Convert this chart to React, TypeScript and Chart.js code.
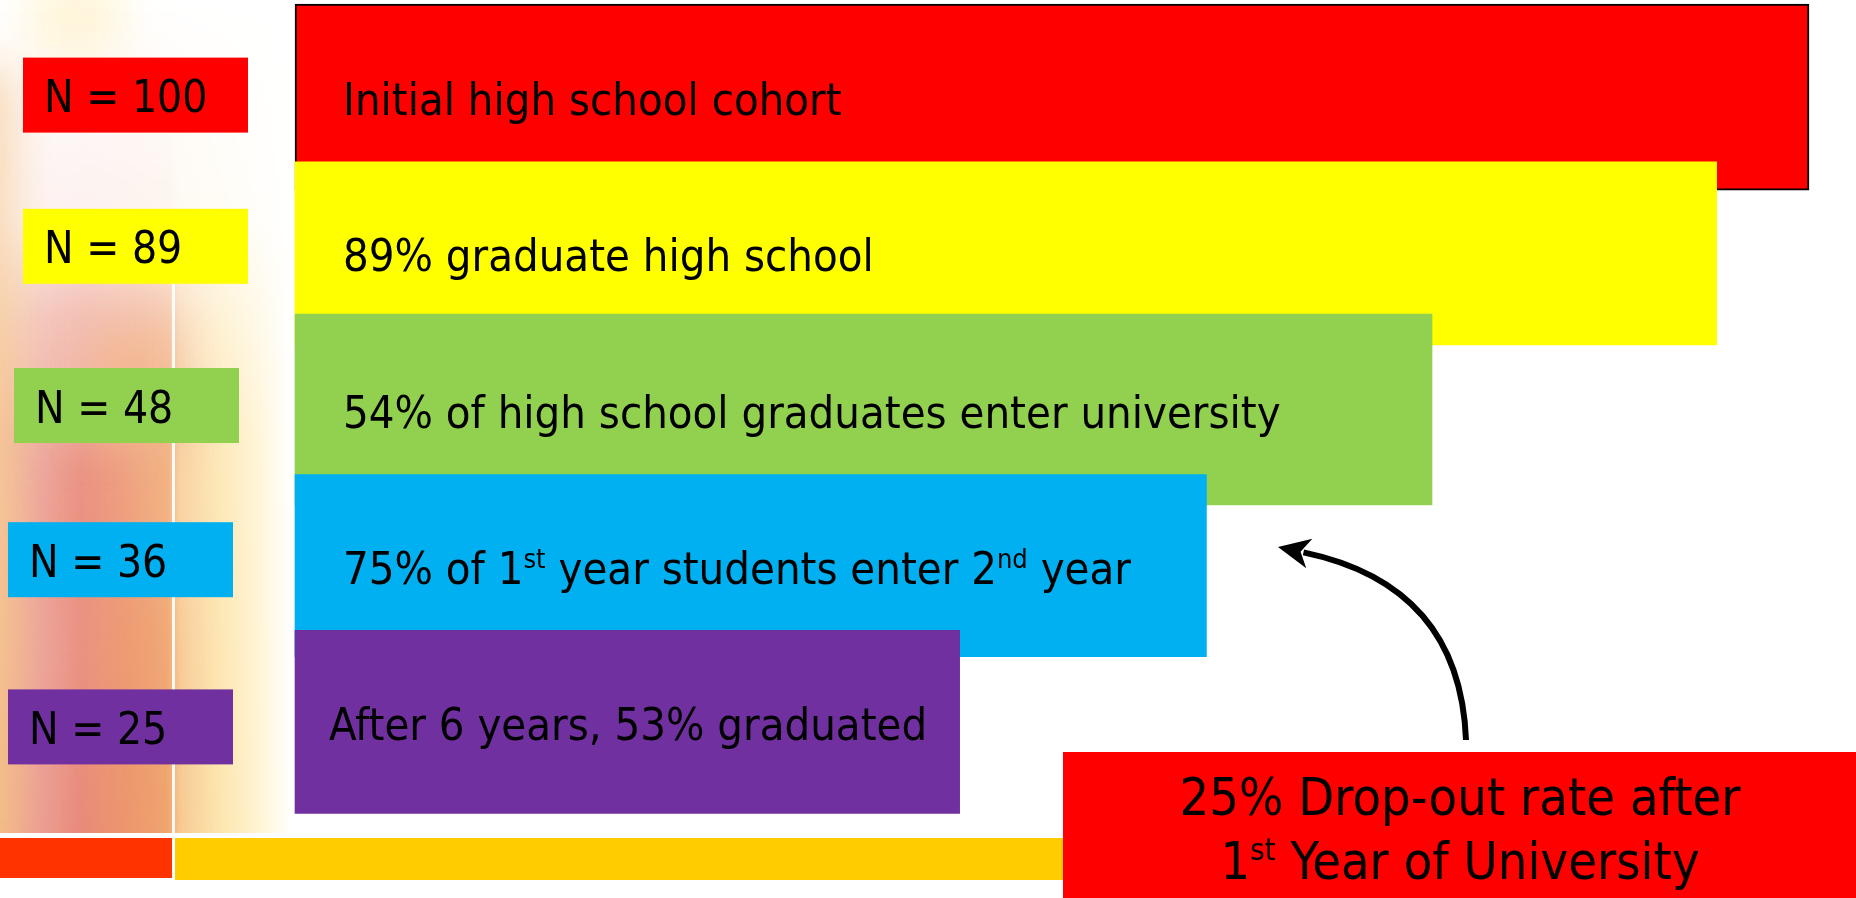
import React, { useEffect, useRef } from 'react';
import { Chart, registerables } from 'chart.js';

Chart.register(...registerables);

// ---- data ----
const stages = [
  'Initial cohort',
  'High school graduates',
  'Enter university',
  'Enter 2nd year',
  'Graduated after 6 years',
];
const barLengths = [100, 93.9, 75.1, 60.2, 43.9];
const counts = [100, 89, 48, 36, 25];
const barLabels = [
  'Initial high school cohort',
  '89% graduate high school',
  '54% of high school graduates enter university',
  '75% of 1^st year students enter 2^nd year',
  'After 6 years, 53% graduated',
];
const barColors = ['#FF0000', '#FFFF00', '#92D050', '#00B0F0', '#7030A0'];
const calloutLines = ['25% Drop-out rate after', '1^st Year of University'];

const W = 1856;
const H = 898;
const FONT = '"DejaVu Sans Condensed", "DejaVu Sans", sans-serif';

type Part = { t: string; sup: boolean };
function parseRich(text: string): Part[] {
  const parts: Part[] = [];
  const re = /\^([A-Za-z]+)/g;
  let last = 0;
  let m: RegExpExecArray | null;
  while ((m = re.exec(text))) {
    if (m.index > last) parts.push({ t: text.slice(last, m.index), sup: false });
    parts.push({ t: m[1], sup: true });
    last = m.index + m[0].length;
  }
  if (last < text.length) parts.push({ t: text.slice(last), sup: false });
  return parts;
}

function drawRich(ctx: CanvasRenderingContext2D, text: string, x: number, y: number, size: number, align: 'left' | 'center') {
  const parts = parseRich(text);
  const supSize = Math.round(size * 0.6);
  const widths = parts.map((p) => {
    ctx.font = `${p.sup ? supSize : size}px ${FONT}`;
    return ctx.measureText(p.t).width;
  });
  const total = widths.reduce((a, b) => a + b, 0);
  let cx = align === 'center' ? x - total / 2 : x;
  ctx.textAlign = 'left';
  ctx.textBaseline = 'alphabetic';
  parts.forEach((p, i) => {
    ctx.font = `${p.sup ? supSize : size}px ${FONT}`;
    ctx.fillText(p.t, cx, p.sup ? y - size * 0.36 : y);
    cx += widths[i];
  });
}

function drawBackdrop(ctx: CanvasRenderingContext2D) {
  ctx.save();
  ctx.fillStyle = '#ffffff';
  ctx.fillRect(0, 0, W, H);

  // main warm band (horizontal colour gradient, faded in vertically)
  const off = document.createElement('canvas');
  off.width = 300;
  off.height = 836;
  const o = off.getContext('2d') as CanvasRenderingContext2D;
  const hg = o.createLinearGradient(0, 0, 300, 0);
  hg.addColorStop(0.0, 'rgb(243,188,135)');
  hg.addColorStop(0.06, 'rgb(240,176,140)');
  hg.addColorStop(0.14, 'rgb(235,158,146)');
  hg.addColorStop(0.27, 'rgb(233,138,122)');
  hg.addColorStop(0.4, 'rgb(237,148,112)');
  hg.addColorStop(0.56, 'rgb(240,168,112)');
  hg.addColorStop(0.6, 'rgb(248,205,150)');
  hg.addColorStop(0.74, 'rgb(253,230,175)');
  hg.addColorStop(0.86, 'rgb(255,243,210)');
  hg.addColorStop(0.97, 'rgb(255,255,255)');
  hg.addColorStop(1.0, 'rgb(255,255,255)');
  o.fillStyle = hg;
  o.fillRect(0, 0, 300, 836);
  o.globalCompositeOperation = 'destination-in';
  const vg = o.createLinearGradient(0, 0, 0, 836);
  vg.addColorStop(0.0, 'rgba(0,0,0,0)');
  vg.addColorStop(0.26, 'rgba(0,0,0,0.12)');
  vg.addColorStop(0.38, 'rgba(0,0,0,0.5)');
  vg.addColorStop(0.52, 'rgba(0,0,0,0.85)');
  vg.addColorStop(1.0, 'rgba(0,0,0,1)');
  o.fillStyle = vg;
  o.fillRect(0, 0, 300, 836);
  ctx.drawImage(off, 0, 0);

  // soft extra blobs
  ctx.save();
  ctx.beginPath();
  ctx.rect(0, 0, 296, 836);
  ctx.clip();
  ctx.filter = 'blur(22px)';
  const blobs: [number, number, number, number, string][] = [
    [-80, 70, 95, 360, 'rgba(245,195,140,0.6)'],
    [30, -30, 90, 90, 'rgba(255,238,190,0.55)'],
    [30, 290, 140, 150, 'rgba(244,190,175,0.5)'],
    [95, 330, 75, 120, 'rgba(243,180,125,0.5)'],
    [55, 450, 55, 150, 'rgba(232,135,115,0.35)'],
    [110, 600, 55, 240, 'rgba(238,150,100,0.35)'],
  ];
  blobs.forEach(([x, y, w, h, c]) => {
    ctx.fillStyle = c;
    ctx.fillRect(x, y, w, h);
  });
  ctx.restore();

  // white divider lines
  ctx.fillStyle = 'rgba(255,255,255,0.9)';
  ctx.fillRect(172, 260, 3, 580);
  ctx.fillStyle = '#ffffff';
  ctx.fillRect(0, 833, W, 5);
  // bottom strips
  ctx.fillStyle = '#FF3300';
  ctx.fillRect(0, 838, 172, 40);
  ctx.fillStyle = '#FFCC00';
  ctx.fillRect(175, 838, W - 175, 42);
  ctx.restore();
}

const decorPlugin = {
  id: 'funnelDecor',
  beforeDraw(chart: any) {
    drawBackdrop(chart.ctx);
  },
  afterDatasetsDraw(chart: any, _args: any, opts: any) {
    const ctx: CanvasRenderingContext2D = chart.ctx;
    ctx.save();
    stages.forEach((_s, i) => {
      const el: any = chart.getDatasetMeta(i).data[i];
      const { y, base } = el.getProps(['y', 'base'], true);
      // count box
      const bx = opts.boxLeft[i];
      const cy = y + opts.boxShift[i];
      ctx.fillStyle = barColors[i];
      ctx.fillRect(bx, cy - 37.5, 225, 75);
      ctx.fillStyle = '#000000';
      ctx.font = `44px ${FONT}`;
      ctx.textAlign = 'left';
      ctx.textBaseline = 'alphabetic';
      ctx.fillText(`N = ${counts[i]}`, bx + 21, cy + 17);
      // bar label
      drawRich(ctx, barLabels[i], base + opts.labelInset[i], y + 18, 45, 'left');
    });
    ctx.restore();
  },
  afterDraw(chart: any) {
    const ctx: CanvasRenderingContext2D = chart.ctx;
    ctx.save();
    // callout box
    ctx.fillStyle = '#FF0000';
    ctx.fillRect(1063, 752, W - 1063, H - 752);
    ctx.fillStyle = '#000000';
    drawRich(ctx, calloutLines[0], 1460, 815, 52, 'center');
    drawRich(ctx, calloutLines[1], 1460, 879, 52, 'center');

    // curved arrow
    const sx = 1466, sy = 740;
    const qx = 1460, qy = 585;
    const tx = 1278, ty = 547;
    const dx = tx - qx, dy = ty - qy;
    const len = Math.hypot(dx, dy);
    const ux = dx / len, uy = dy / len;
    const headLen = 32;
    const ex = tx - ux * (headLen - 6), ey = ty - uy * (headLen - 6);
    ctx.strokeStyle = '#000000';
    ctx.lineWidth = 6;
    ctx.beginPath();
    ctx.moveTo(sx, sy);
    ctx.quadraticCurveTo(qx, qy, ex, ey);
    ctx.stroke();
    const px = -uy, py = ux;
    const bxp = tx - ux * headLen, byp = ty - uy * headLen;
    ctx.fillStyle = '#000000';
    ctx.beginPath();
    ctx.moveTo(tx, ty);
    ctx.lineTo(bxp + px * 15, byp + py * 15);
    ctx.lineTo(tx - ux * headLen * 0.72, ty - uy * headLen * 0.72);
    ctx.lineTo(bxp - px * 15, byp - py * 15);
    ctx.closePath();
    ctx.fill();
    ctx.restore();
  },
};

export default function App() {
  const canvasRef = useRef<HTMLCanvasElement | null>(null);

  useEffect(() => {
    document.body.style.margin = '0';
    const canvas = canvasRef.current;
    if (!canvas) return;
    const thickness = [186, 183, 191, 182, 183];
    const chart = new Chart(canvas, {
      type: 'bar',
      data: {
        labels: stages,
        datasets: stages.map((s, i) => ({
          label: s,
          data: barLengths.map((v, j) => (j === i ? v : null)),
          backgroundColor: barColors[i],
          borderColor: '#000000',
          borderWidth: i === 0 ? 2 : 0,
          borderSkipped: false,
          barThickness: thickness[i],
          grouped: false,
          clip: false,
          // later stages are painted on top of earlier ones
          order: stages.length - i,
        })) as any,
      },
      options: {
        indexAxis: 'y',
        responsive: false,
        maintainAspectRatio: false,
        animation: false,
        devicePixelRatio: 1,
        layout: { padding: { left: 295, right: 47, top: 19, bottom: 98 } },
        scales: {
          x: { display: false, min: 0, max: 100 },
          y: { display: false },
        },
        plugins: {
          legend: { display: false },
          tooltip: { enabled: false },
          funnelDecor: {
            boxLeft: [23, 23, 14, 8, 8],
            boxShift: [-2, -7, -4, -6, 5],
            labelInset: [48, 48, 48, 48, 34],
          },
        } as any,
      },
      plugins: [decorPlugin],
    });
    return () => chart.destroy();
  }, []);

  return <canvas ref={canvasRef} width={W} height={H} style={{ display: 'block', width: W, height: H }} />;
}
